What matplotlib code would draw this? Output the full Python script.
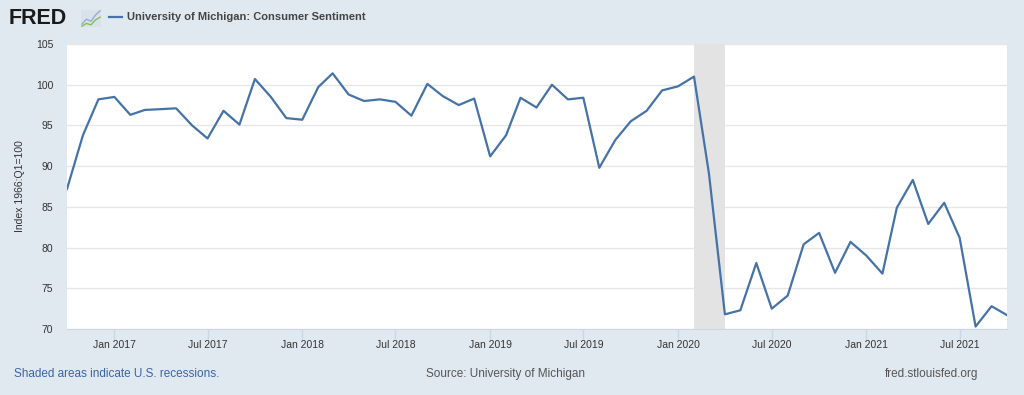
import numpy as np
import pandas as pd
import matplotlib
matplotlib.use("Agg")
import matplotlib.pyplot as plt
import matplotlib.dates as mdates

plt.rcParams["font.family"] = ["Liberation Sans", "DejaVu Sans"]

# monthly consumer sentiment, Oct 2016 - Oct 2021
start_month = "2016-10-01"
sentiment = [
    87.2, 93.8, 98.2,
    98.5, 96.3, 96.9, 97.0, 97.1, 95.0, 93.4, 96.8, 95.1, 100.7, 98.5, 95.9,
    95.7, 99.7, 101.4, 98.8, 98.0, 98.2, 97.9, 96.2, 100.1, 98.6, 97.5, 98.3,
    91.2, 93.8, 98.4, 97.2, 100.0, 98.2, 98.4, 89.8, 93.2, 95.5, 96.8, 99.3,
    99.8, 101.0, 89.1, 71.8, 72.3, 78.1, 72.5, 74.1, 80.4, 81.8, 76.9, 80.7,
    79.0, 76.8, 84.9, 88.3, 82.9, 85.5, 81.2, 70.3, 72.8, 71.7,
]
dates = pd.date_range(start_month, periods=len(sentiment), freq="MS")
recession = (pd.Timestamp("2020-02-01"), pd.Timestamp("2020-04-01"))
y_ticks = [70, 75, 80, 85, 90, 95, 100, 105]

bg = "#e1e9f0"
navy = "#4572a7"
text_gray = "#555555"

fig = plt.figure(figsize=(10.24, 3.95), dpi=100, facecolor=bg)
ax = fig.add_axes([67 / 1024, 1 - 329 / 395, 940 / 1024, 285 / 395])
ax.set_facecolor("white")

ax.axvspan(recession[0], recession[1], color="#e3e3e3", zorder=1, lw=0)
ax.plot(dates, sentiment, color=navy, lw=1.6, zorder=3)

ax.set_xlim(dates[0], dates[-1])
ax.set_ylim(70, 105)
ax.set_yticks(y_ticks)
ax.grid(axis="y", color="#e6e6e6", lw=1)
ax.set_axisbelow(True)

ax.xaxis.set_major_locator(mdates.MonthLocator(bymonth=[1, 7]))
ax.xaxis.set_major_formatter(mdates.DateFormatter("%b %Y"))

for side in ["top", "right", "left"]:
    ax.spines[side].set_visible(False)
ax.spines["bottom"].set_color("#ccd6eb")

ax.tick_params(axis="x", colors="#ccd6eb", labelcolor="#333333", labelsize=7.5,
               length=7, width=1, pad=1)
ax.tick_params(axis="y", length=0, labelcolor="#333333", labelsize=7.5, pad=10)
ax.set_ylabel("Index 1966:Q1=100", fontsize=7.5, color="#333333", labelpad=8)

# header
fig.text(9 / 1024, 1 - 18 / 395, "FRED", fontsize=15.5, weight="bold", color="#1a1a1a", va="center")
icon = fig.add_axes([81 / 1024, 1 - 27 / 395, 20 / 1024, 17 / 395])
icon.set_facecolor("#d9e2ea")
icon.plot([0, 1, 2, 3, 4], [0.5, 1.2, 0.9, 1.8, 2.4], color="#8fb0d0", lw=1)
icon.plot([0, 1, 2, 3, 4], [0.2, 0.6, 0.4, 1.1, 1.5], color="#8bbf4e", lw=1)
icon.set_xticks([])
icon.set_yticks([])
for s in icon.spines.values():
    s.set_visible(False)

fig.lines.append(plt.Line2D([109 / 1024, 122 / 1024], [1 - 17 / 395, 1 - 17 / 395],
                            transform=fig.transFigure, color=navy, lw=1.6))
fig.text(127 / 1024, 1 - 17 / 395, "University of Michigan: Consumer Sentiment",
         fontsize=8, weight="bold", color="#444444", va="center")

# footer
fig.text(14 / 1024, 1 - 374 / 395, "Shaded areas indicate U.S. recessions.",
         fontsize=8.5, color="#3a63a8", va="center")
fig.text(505 / 1024, 1 - 374 / 395, "Source: University of Michigan",
         fontsize=8.5, color=text_gray, va="center", ha="center")
fig.text(978 / 1024, 1 - 374 / 395, "fred.stlouisfed.org",
         fontsize=8.5, color=text_gray, va="center", ha="right")

fig.savefig("out.png", dpi=100, facecolor=bg)
